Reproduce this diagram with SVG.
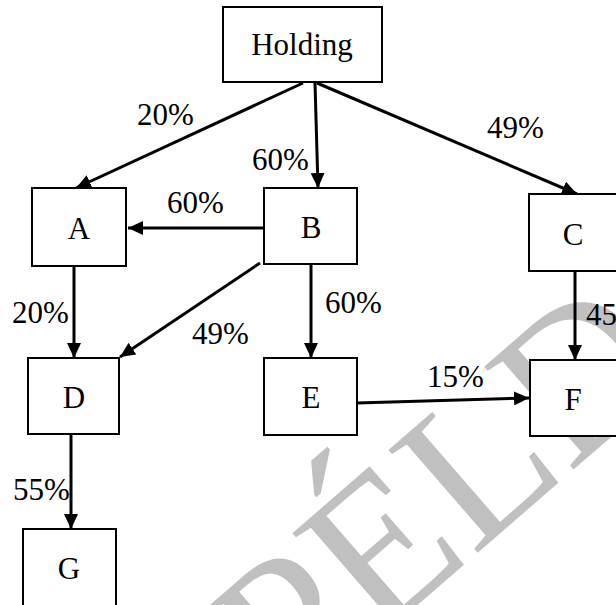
<svg xmlns="http://www.w3.org/2000/svg" width="616" height="605" viewBox="0 0 616 605">
<style>
.box{fill:#fff;stroke:#000;stroke-width:2}
.lbl{font-family:"Liberation Serif","Times New Roman",serif;font-size:31px;fill:#000}
.nt{font-family:"Liberation Serif","Times New Roman",serif;font-size:31px;fill:#000;text-anchor:middle}
.edge{stroke:#000;stroke-width:3;fill:none;marker-end:url(#ah)}
.wm{font-family:"Liberation Serif","Times New Roman",serif;font-size:208px;fill:#c0c0c0}
</style>
<defs>
<marker id="ah" markerUnits="userSpaceOnUse" markerWidth="16" markerHeight="14" refX="15" refY="7" orient="auto">
<path d="M0,0 L15,7 L0,14 z" fill="#000"/>
</marker>
</defs>
<rect width="616" height="605" fill="#fff"/>
<text class="wm" transform="translate(290,716) rotate(-41)">PÉLDA</text>
<g id="connectors">
<line class="edge" x1="303" y1="83" x2="76" y2="188"/>
<line class="edge" x1="315" y1="83" x2="318" y2="188"/>
<line class="edge" x1="317" y1="83" x2="577" y2="194"/>
<line class="edge" x1="264" y1="228" x2="128" y2="228"/>
<line class="edge" x1="74" y1="266" x2="74" y2="358"/>
<line class="edge" x1="260" y1="263" x2="120" y2="357"/>
<line class="edge" x1="311" y1="264" x2="311" y2="358"/>
<line class="edge" x1="575" y1="271" x2="575" y2="360"/>
<line class="edge" x1="357" y1="403" x2="529" y2="398"/>
<line class="edge" x1="71" y1="434" x2="71" y2="529"/>
</g>
<g id="node-holding"><rect class="box" x="223" y="7" width="159" height="75"/><text class="nt" x="302" y="55">Holding</text></g>
<g id="node-a"><rect class="box" x="32" y="188" width="94" height="78"/><text class="nt" x="79" y="239">A</text></g>
<g id="node-b"><rect class="box" x="264" y="188" width="93" height="76"/><text class="nt" x="311" y="238">B</text></g>
<g id="node-c"><rect class="box" x="529" y="194" width="100" height="77"/><text class="nt" x="573" y="245">C</text></g>
<g id="node-d"><rect class="box" x="28" y="358" width="91" height="76"/><text class="nt" x="74" y="408">D</text></g>
<g id="node-e"><rect class="box" x="264" y="358" width="93" height="77"/><text class="nt" x="311" y="408">E</text></g>
<g id="node-f"><rect class="box" x="530" y="360" width="100" height="76"/><text class="nt" x="573" y="410">F</text></g>
<g id="node-g"><rect class="box" x="23" y="529" width="93" height="100"/><text class="nt" x="69" y="579">G</text></g>
<g id="labels">
<text class="lbl" x="137" y="125">20%</text>
<text class="lbl" x="252" y="170">60%</text>
<text class="lbl" x="487" y="138">49%</text>
<text class="lbl" x="167" y="213">60%</text>
<text class="lbl" x="12" y="323">20%</text>
<text class="lbl" x="192" y="344">49%</text>
<text class="lbl" x="325" y="313">60%</text>
<text class="lbl" x="586" y="325">45%</text>
<text class="lbl" x="427" y="387">15%</text>
<text class="lbl" x="13" y="500">55%</text>
</g>
</svg>
